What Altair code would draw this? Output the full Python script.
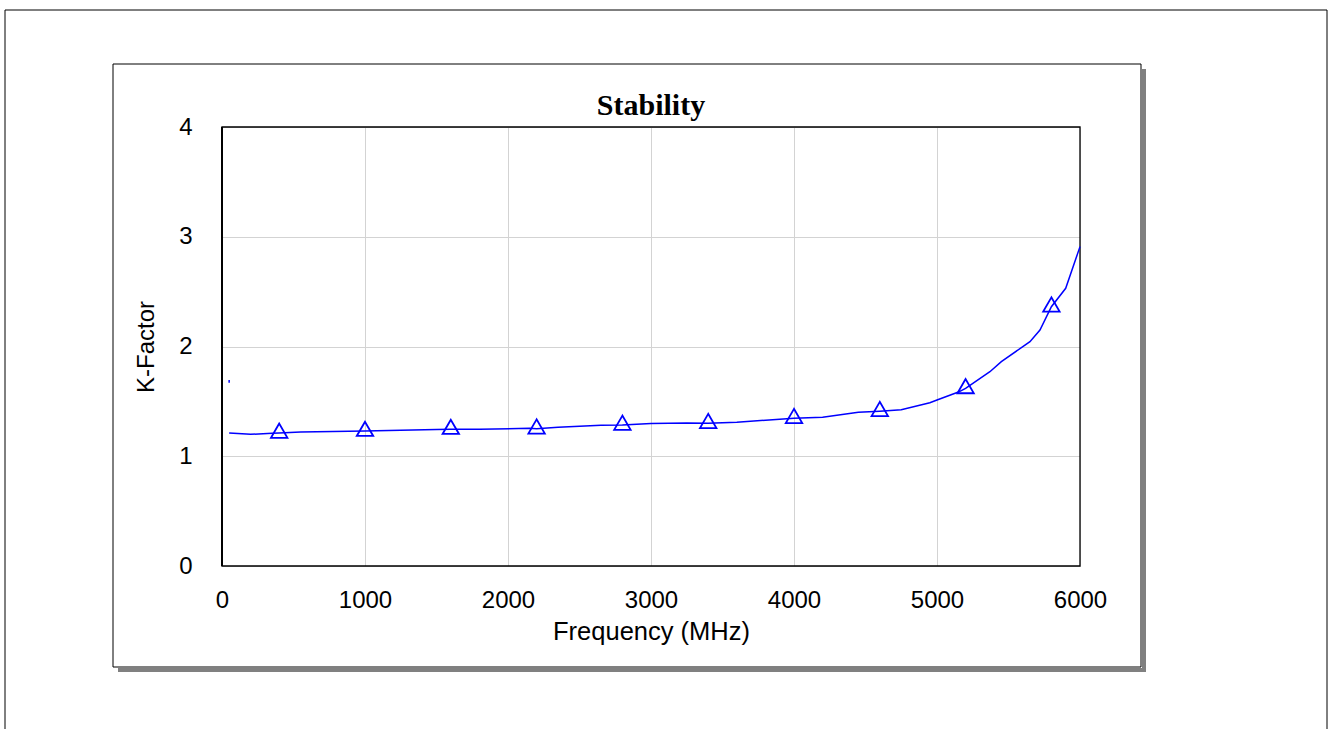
import altair as alt
import pandas as pd

# Stability factor K versus frequency
freq_mhz = [50, 200, 350, 400, 550, 1000, 1500, 1600, 1800, 2150, 2200, 2350,
            2650, 2800, 3000, 3250, 3400, 3600, 3900, 4000, 4200, 4350, 4450,
            4600, 4750, 4950, 5000, 5150, 5200, 5370, 5450, 5650, 5720, 5800,
            5900, 6000]
k_factor = [1.212, 1.200, 1.209, 1.212, 1.221, 1.229, 1.243, 1.247, 1.246,
            1.254, 1.250, 1.264, 1.282, 1.284, 1.298, 1.303, 1.300, 1.310,
            1.337, 1.346, 1.356, 1.382, 1.400, 1.410, 1.423, 1.488, 1.513,
            1.585, 1.618, 1.770, 1.862, 2.044, 2.150, 2.362, 2.530, 2.910]

# Triangle markers placed on the trace every 600 MHz
marker_freq = [400, 1000, 1600, 2200, 2800, 3400, 4000, 4600, 5200, 5800]
marker_k = [1.212, 1.229, 1.247, 1.250, 1.284, 1.300, 1.346, 1.410, 1.618, 2.362]

# Short stray segment of the trace at the low-frequency end
stub_freq = [50, 50]
stub_k = [1.695, 1.670]

x_ticks = [0, 1000, 2000, 3000, 4000, 5000, 6000]
y_ticks = [0, 1, 2, 3, 4]

W, H = 858, 439
BLUE = "#0000ff"
SANS = "Liberation Sans"

curve = pd.DataFrame({"f": freq_mhz, "k": k_factor})
markers = pd.DataFrame({"f": marker_freq, "k": marker_k})
stub = pd.DataFrame({"f": stub_freq, "k": stub_k})

x_scale = alt.Scale(domain=[0, 6000], nice=False, zero=False)
y_scale = alt.Scale(domain=[0, 4], nice=False, zero=False)

x_enc = alt.X(
    "f:Q", scale=x_scale,
    axis=alt.Axis(
        values=x_ticks, title="Frequency (MHz)", grid=True, gridColor="#d3d3d3",
        gridWidth=1, domain=False, ticks=False, labelFont=SANS, labelFontSize=24,
        labelColor="black", labelPadding=22, labelFlush=False, titleFont=SANS,
        titleFontSize=25.5, titleFontWeight="normal", titleColor="black",
        titlePadding=7, format="d",
    ),
)
y_enc = alt.Y(
    "k:Q", scale=y_scale,
    axis=alt.Axis(
        values=y_ticks, title="K-Factor", grid=True, gridColor="#d3d3d3",
        gridWidth=1, domain=False, ticks=False, labelFont=SANS, labelFontSize=24,
        labelFlush=False, labelColor="black", labelPadding=30, titleFont=SANS,
        titleFontSize=24, titleFontWeight="normal", titleColor="black",
        titlePadding=20, format="d",
    ),
)

one = alt.Data(values=[{}])

# Page frame, drop shadow and framed panel around the plot
page_frame = alt.Chart(one).mark_rect(fill="transparent", stroke="black", strokeWidth=1).encode(
    x=alt.value(-217), x2=alt.value(1105), y=alt.value(-117), y2=alt.value(640)
)
shadow_right = alt.Chart(one).mark_rect(fill="#808080").encode(
    x=alt.value(920), x2=alt.value(924), y=alt.value(-58), y2=alt.value(545)
)
shadow_bottom = alt.Chart(one).mark_rect(fill="#808080").encode(
    x=alt.value(-104), x2=alt.value(924), y=alt.value(541), y2=alt.value(545)
)
panel = alt.Chart(one).mark_rect(fill="transparent", stroke="black", strokeWidth=1).encode(
    x=alt.value(-109), x2=alt.value(919), y=alt.value(-63), y2=alt.value(540)
)
# Border of the plotting area, drawn above the grid
plot_frame = alt.Chart(one).mark_rect(fill="transparent", stroke="black", strokeWidth=1.3).encode(
    x=alt.value(0), x2=alt.value(W), y=alt.value(0), y2=alt.value(H)
)
left_edge = alt.Chart(one).mark_rule(color="black", strokeWidth=2).encode(
    x=alt.value(0), y=alt.value(0), y2=alt.value(H)
)
title = alt.Chart(one).mark_text(
    text="Stability", font="Liberation Serif", fontSize=30, fontWeight="bold",
    color="black", align="center", baseline="alphabetic",
).encode(x=alt.value(W / 2), y=alt.value(-12))

line = alt.Chart(curve).mark_line(color=BLUE, strokeWidth=1.5).encode(
    x=x_enc, y=y_enc, order="f:Q"
)
stub_line = alt.Chart(stub).mark_line(color=BLUE, strokeWidth=1.5).encode(
    x=alt.X("f:Q", scale=x_scale), y=alt.Y("k:Q", scale=y_scale)
)
points = alt.Chart(markers).mark_point(
    shape="triangle-up", size=270, filled=False, color=BLUE, strokeWidth=1.8,
    yOffset=-2.3, opacity=1,
).encode(x=alt.X("f:Q", scale=x_scale), y=alt.Y("k:Q", scale=y_scale))

chart = alt.layer(
    page_frame, shadow_right, shadow_bottom, panel, plot_frame, left_edge,
    title, line, stub_line, points
).properties(
    width=W, height=H,
    autosize=alt.AutoSizeParams(type="none"),
    padding={"left": 222, "top": 127, "right": 250, "bottom": 163},
    background="white",
).configure_view(strokeWidth=0)

chart.save("out.html", embed_options={"renderer": "svg", "actions": False})
